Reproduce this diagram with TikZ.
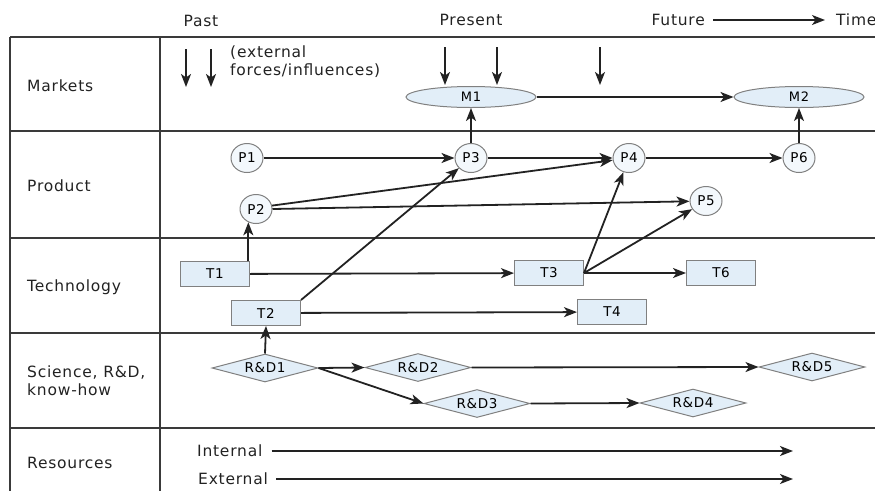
\documentclass[tikz,border=0pt]{standalone}
\usepackage{fontspec}
\setmainfont{DejaVu Sans}[LetterSpace=5]
\usetikzlibrary{shapes.geometric,arrows.meta}
\definecolor{nodefill}{HTML}{E2EEF8}
\definecolor{nodeline}{HTML}{808080}
\definecolor{tabline}{HTML}{3A3A3A}
\definecolor{ink}{HTML}{222222}
\tikzset{
  tab/.style={draw=tabline, line width=1.3pt},
  lbl/.style={anchor=west, font=\fontsize{15.5}{18}\selectfont, text=ink, inner sep=0pt},
  hdr/.style={font=\fontsize{15.5}{18}\selectfont, text=ink, inner sep=0pt},
  arr/.style={draw=ink, line width=1.8pt, -{Stealth[length=13pt,width=10pt,inset=3.5pt]}},
  mk/.style={ellipse, draw=nodeline, fill=nodefill, line width=1pt, minimum width=130pt, minimum height=21pt, inner sep=0pt, font=\fontsize{13}{15}\selectfont},
  pc/.style={ellipse, draw=nodeline, fill=nodefill!40, line width=1pt, minimum width=32pt, minimum height=29pt, inner sep=0pt, font=\fontsize{13.5}{15}\selectfont},
  tb/.style={rectangle, draw=nodeline, fill=nodefill, line width=1pt, minimum width=69pt, minimum height=25pt, inner sep=0pt, font=\fontsize{13.5}{15}\selectfont},
  rd/.style={diamond, aspect=3.8, draw=nodeline, fill=nodefill, line width=1pt, minimum width=106pt, minimum height=28pt, inner sep=0pt, font=\fontsize{13.5}{15}\selectfont},
}
\begin{document}
\begin{tikzpicture}[x=1pt,y=-1pt]
\useasboundingbox (0,0) rectangle (875,491);
% table
\draw[tab] (10,37) -- (10,491);
\draw[tab] (160,37) -- (160,491);
\foreach \yy in {37,131,238,333,428} \draw[tab] (10,\yy) -- (875,\yy);
% header
\node[hdr] (past) at (201,21) {Past};
\node[hdr] (present) at (471,20) {Present};
\node[hdr, anchor=east] (future) at (705,20) {Future};
\node[hdr, anchor=west] (time) at (836,20) {Time};
\draw[arr, line width=1.4pt] ([xshift=8pt]future.east) -- ([xshift=-11pt]time.west);
% row labels
\node[lbl] (lmarkets) at (27,86) {Markets};
\node[lbl] (lproduct) at (27,186) {Product};
\node[lbl] (ltech) at (27,287) {Technology};
\node[lbl, align=left] (lsci) at (27,381) {Science, R\&D,\\know-how};
\node[lbl] (lres) at (27,463) {Resources};
% external forces
\node[lbl, align=left, anchor=north west] (ext) at (230,46) {(external\\forces/influences)};
\coordinate (f1a) at (186,49); \coordinate (f1b) at (186,87);
\coordinate (f2a) at (211,49); \coordinate (f2b) at (211,87);
\coordinate (f3a) at (445,47); \coordinate (f3b) at (445,85);
\coordinate (f4a) at (497,47); \coordinate (f4b) at (497,85);
\coordinate (f5a) at (600,47); \coordinate (f5b) at (600,85);
\foreach \i in {1,...,5} \draw[arr] (f\i a) -- (f\i b);
% nodes
\node[mk] (M1) at (471,97) {M1};
\node[mk] (M2) at (799,97) {M2};
\node[pc] (P1) at (247,158) {P1};
\node[pc] (P3) at (471,158) {P3};
\node[pc] (P4) at (629,158) {P4};
\node[pc] (P6) at (799,158) {P6};
\node[pc] (P2) at (256,209) {P2};
\node[pc] (P5) at (706,201) {P5};
\node[tb] (T1) at (215,274) {T1};
\node[tb] (T2) at (266,313) {T2};
\node[tb] (T3) at (549,273) {T3};
\node[tb] (T6) at (721,273) {T6};
\node[tb] (T4) at (612,312) {T4};
\node[rd] (R1) at (265,368) {R\&D1};
\node[rd] (R2) at (418,367.5) {R\&D2};
\node[rd] (R5) at (812,367) {R\&D5};
\node[rd] (R3) at (477,403.5) {R\&D3};
\node[rd] (R4) at (693,403) {R\&D4};
% connectors
\draw[arr] (M1) -- (M2);
\draw[arr] (P3) -- (M1);
\draw[arr] (P6) -- (M2);
\draw[arr] (P1) -- (P3);
\draw[arr] (P3) -- (P4);
\draw[arr] (P4) -- (P6);
\draw[arr] (P2.12) -- (P4);
\draw[arr] (P2.east) -- (P5);
\draw[arr] (P2.240 |- T1.north) -- (P2.240);
\draw[arr] (T2.north east) -- (P3);
\draw[arr] (T3.east) -- (P4);
\draw[arr] (T3.east) -- (P5);
\draw[arr] (T1) -- (T3);
\draw[arr] (T3.east) -- (T6.west);
\draw[arr] (T2) -- (T4);
\draw[arr] (R1.north) -- (T2.south);
\draw[arr] (R1.east) -- (R2.west);
\draw[arr] (R1.east) -- (R3.west);
\draw[arr] (R2.east) -- (R5.west);
\draw[arr] (R3.east) -- (R4.west);
% resources
\node[hdr, anchor=west] (int) at (197,451) {Internal};
\node[hdr, anchor=west] (ext2) at (198,479) {External};
\coordinate (intend) at (793,451);
\coordinate (extend) at (793,479);
\draw[arr] ([xshift=9pt]int.east) -- (intend);
\draw[arr] ([xshift=8pt]ext2.east) -- (extend);
\end{tikzpicture}
\end{document}
